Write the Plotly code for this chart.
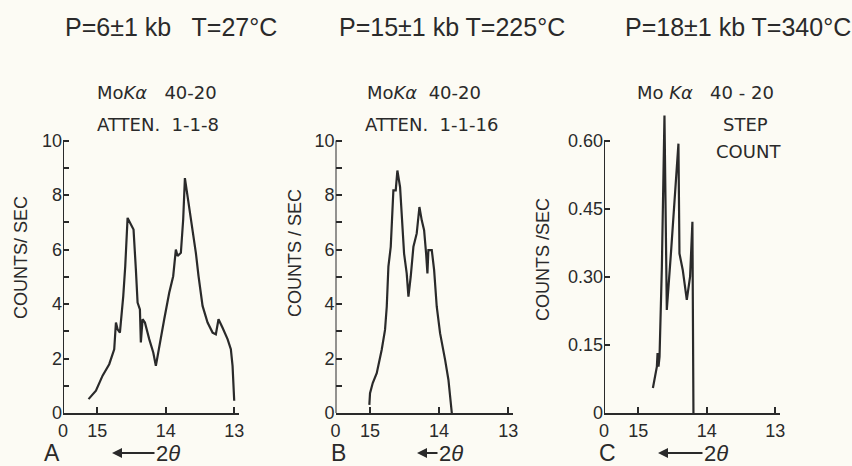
import plotly.graph_objects as go

# ---------------- data ----------------
a_x = [15.127, 15.019, 14.922, 14.825, 14.752, 14.727, 14.703, 14.669, 14.620, 14.591,
       14.557, 14.509, 14.470, 14.436, 14.411, 14.377, 14.363, 14.338, 14.304, 14.241,
       14.182, 14.144, 14.095, 14.022, 13.949, 13.891, 13.852, 13.827, 13.779, 13.745,
       13.720, 13.696, 13.667, 13.608, 13.560, 13.521, 13.462, 13.389, 13.316, 13.268,
       13.229, 13.170, 13.097, 13.049, 13.024, 13.000]
a_y = [0.51, 0.82, 1.37, 1.79, 2.34, 3.32, 3.07, 2.95, 4.29, 5.39,
       7.16, 6.91, 6.73, 5.27, 4.05, 3.80, 2.59, 3.44, 3.32, 2.71,
       2.22, 1.73, 2.46, 3.44, 4.41, 5.02, 6.00, 5.76, 5.88, 7.10,
       8.62, 8.20, 7.77, 6.85, 5.88, 5.02, 3.93, 3.32, 2.95, 2.89,
       3.44, 3.13, 2.71, 2.34, 1.73, 0.45]

b_x = [15.010, 15.000, 14.961, 14.903, 14.831, 14.783, 14.758, 14.734, 14.700, 14.676,
       14.662, 14.628, 14.604, 14.565, 14.541, 14.507, 14.469, 14.444, 14.411, 14.372,
       14.324, 14.285, 14.251, 14.217, 14.188, 14.169, 14.155, 14.106, 14.072, 14.034,
       13.986, 13.947, 13.913, 13.865, 13.816]
b_y = [0.30, 0.73, 1.10, 1.46, 2.32, 3.05, 3.90, 5.37, 6.10, 7.87,
       8.17, 8.17, 8.90, 8.29, 7.07, 5.85, 5.12, 4.27, 5.00, 6.10,
       6.59, 7.56, 7.07, 6.71, 5.85, 5.12, 5.98, 5.98, 5.24, 3.90,
       2.93, 2.32, 1.95, 1.22, 0.00]

c_x = [14.786, 14.728, 14.718, 14.704, 14.689, 14.655, 14.617, 14.583, 14.519, 14.461,
       14.413, 14.398, 14.350, 14.291, 14.243, 14.209, 14.194]
c_y = [0.055, 0.102, 0.132, 0.102, 0.124, 0.322, 0.655, 0.227, 0.359, 0.490,
       0.593, 0.351, 0.315, 0.249, 0.300, 0.421, 0.000]

x_tickvals = [15.5, 15, 14, 13]
x_ticktext = ["0", "15", "14", "13"]
ab_tickvals = list(range(0, 11))
ab_ticktext = ["0", "", "2", "", "4", "", "6", "", "8", "", "10"]
c_tickvals = [0, 0.15, 0.30, 0.45, 0.60]
c_ticktext = ["0", "0.15", "0.30", "0.45", "0.60"]

titles = ["P=6±1 kb&nbsp;&nbsp; T=27°C", "P=15±1 kb T=225°C", "P=18±1 kb T=340°C"]
panel_letters = ["A", "B", "C"]

# ---------------- layout helpers ----------------
W, H = 852, 466
INK = "#2a2a2a"
FONT = "Liberation Sans, Arial, sans-serif"
FONT2 = "DejaVu Sans, Liberation Sans, sans-serif"

def px(x):
    return x / W

def py(y):
    return 1 - y / H

y_dom = [py(413), py(113.25)]
x_doms = [[px(63), px(239)], [px(335.5), px(513)], [px(604), px(780)]]
x_range = [15.5, 12.93]

fig = go.Figure()
series = [(a_x, a_y), (b_x, b_y), (c_x, c_y)]
for i, (xs, ys) in enumerate(series):
    sfx = "" if i == 0 else str(i + 1)
    fig.add_trace(go.Scatter(x=xs, y=ys, mode="lines",
                             line=dict(color=INK, width=2.2),
                             xaxis="x" + sfx, yaxis="y" + sfx,
                             showlegend=False, hoverinfo="skip"))

layout = dict(width=W, height=H, margin=dict(l=0, r=0, t=0, b=0, autoexpand=False),
              paper_bgcolor="#fcfbf4", plot_bgcolor="rgba(0,0,0,0)",
              font=dict(family=FONT, color=INK), showlegend=False)

for i in range(3):
    sfx = "" if i == 0 else str(i + 1)
    layout["xaxis" + sfx] = dict(domain=x_doms[i], range=x_range, anchor="y" + sfx,
                                 automargin=False,
                                 showline=True, linecolor=INK, linewidth=2,
                                 showgrid=False, zeroline=False,
                                 tickmode="array", tickvals=x_tickvals, ticktext=x_ticktext,
                                 ticks="inside", ticklen=6, tickwidth=2, tickcolor=INK,
                                 tickfont=dict(size=18, color=INK, family=FONT))
    if i < 2:
        yr, tv, tt = [0, 11], ab_tickvals, ab_ticktext
    else:
        yr, tv, tt = [0, 0.66], c_tickvals, c_ticktext
    layout["yaxis" + sfx] = dict(domain=y_dom, range=yr, anchor="x" + sfx,
                                 automargin=False,
                                 showline=False, showgrid=False, zeroline=False,
                                 tickmode="array", tickvals=tv, ticktext=tt,
                                 ticks="inside", ticklen=6, tickwidth=2, tickcolor=INK,
                                 tickfont=dict(size=18, color=INK, family=FONT))
fig.update_layout(**layout)

# y-axis lines drawn up to the top tick only
tops = [10, 10, 0.60]
for i in range(3):
    sfx = "" if i == 0 else str(i + 1)
    fig.add_shape(type="line", xref="x" + sfx, yref="y" + sfx,
                  x0=15.5, x1=15.5, y0=0, y1=tops[i],
                  line=dict(color=INK, width=2))

ann = []
def text(x, y, t, size, angle=0, anchor="center", family=FONT):
    ann.append(dict(x=px(x), y=py(y), xref="paper", yref="paper", text=t,
                    showarrow=False, textangle=angle,
                    font=dict(size=size, color=INK, family=family),
                    xanchor=anchor, yanchor="middle"))

title_x = [63, 337, 623]
for tx, t in zip(title_x, titles):
    text(tx, 27, t, 25, anchor="left")

text(95, 92, "Mo<i>Kα</i>&nbsp;&nbsp; 40-20", 18, anchor="left", family=FONT2)
text(95, 124, "ATTEN.&nbsp; 1-1-8", 18, anchor="left", family=FONT2)
text(365, 92, "Mo<i>Kα</i>&nbsp; 40-20", 18, anchor="left", family=FONT2)
text(363, 124, "ATTEN.&nbsp; 1-1-16", 18, anchor="left", family=FONT2)
text(635, 92, "Mo <i>Kα</i>&nbsp;&nbsp; 40 - 20", 18, anchor="left", family=FONT2)
text(745, 124, "STEP", 18, family=FONT2)
text(748, 152, "COUNT", 18, family=FONT2)

text(21, 258, "COUNTS/ SEC", 18, -90)
text(295, 253, "COUNTS / SEC", 18, -90)
text(543, 260, "COUNTS /SEC", 18, -90)

for lx, L in zip([52, 338, 607], panel_letters):
    text(lx, 453, L, 23)

# arrows "<-- 2θ"
arrow_specs = [(112, 168), (417, 451), (658, 716)]
for head, tc in arrow_specs:
    ann.append(dict(x=px(head), y=py(453), xref="paper", yref="paper",
                    text="2<i>θ</i>", showarrow=True, arrowhead=2, arrowsize=1,
                    arrowwidth=2, arrowcolor=INK, ax=tc - head, ay=0,
                    font=dict(size=22, color=INK, family=FONT)))

fig.update_layout(annotations=ann)
fig.write_html("out.html", config={"displayModeBar": False, "responsive": False},
               post_script="document.body.style.margin='0';document.body.style.padding='0';")
